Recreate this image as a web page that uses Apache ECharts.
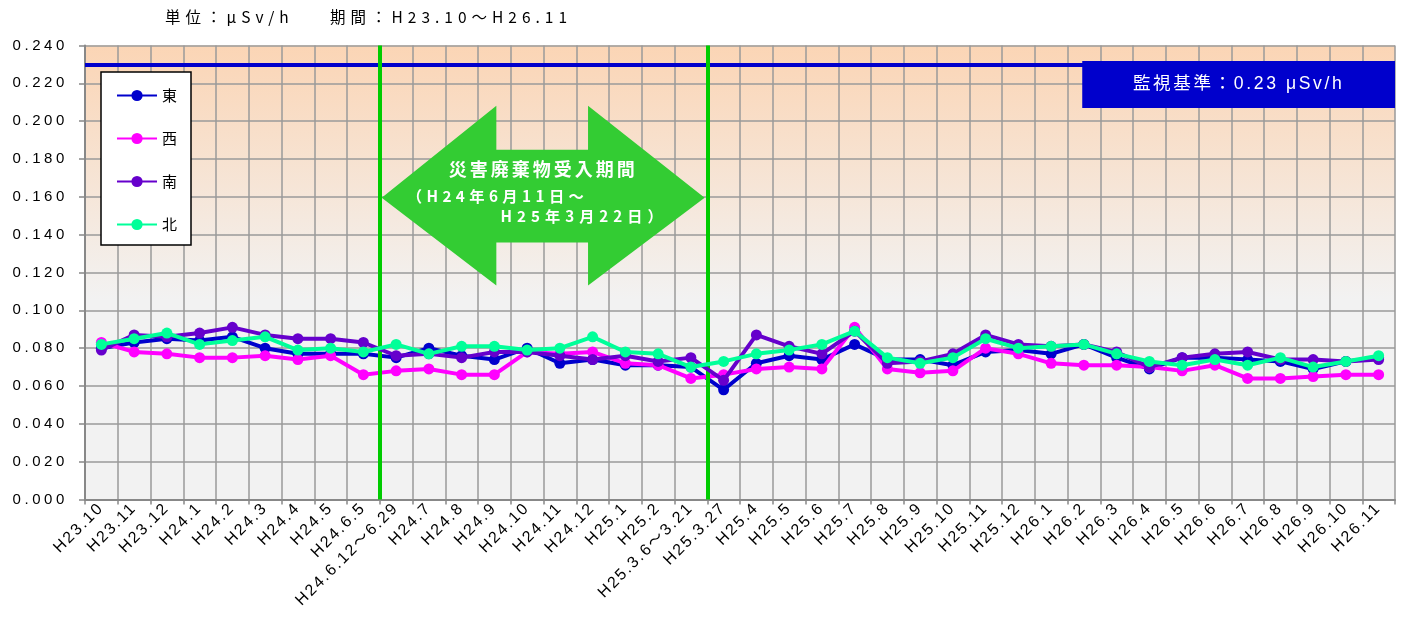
<!DOCTYPE html>
<html><head><meta charset="utf-8">
<script src="https://cdn.jsdelivr.net/npm/echarts@6/dist/echarts.min.js"></script>
<style>html,body{margin:0;padding:0;background:#fff}#c{width:1402px;height:621px}</style>
</head><body><div id="c"></div>
<script>
// ---- data ----
const categories = ['H23.10','H23.11','H23.12','H24.1','H24.2','H24.3','H24.4','H24.5','H24.6.5','H24.6.12～6.29',
  'H24.7','H24.8','H24.9','H24.10','H24.11','H24.12','H25.1','H25.2','H25.3.6～3.21','H25.3.27',
  'H25.4','H25.5','H25.6','H25.7','H25.8','H25.9','H25.10','H25.11','H25.12','H26.1',
  'H26.2','H26.3','H26.4','H26.5','H26.6','H26.7','H26.8','H26.9','H26.10','H26.11'];
const seriesNames = ['東','西','南','北'];
const east  = [0.080,0.083,0.085,0.084,0.086,0.080,0.077,0.077,0.077,0.075,
               0.080,0.076,0.074,0.080,0.072,0.074,0.071,0.071,0.070,0.058,
               0.072,0.076,0.074,0.082,0.074,0.074,0.071,0.078,0.079,0.077,
               0.082,0.075,0.069,0.075,0.075,0.074,0.073,0.069,0.073,0.075];
const west  = [0.083,0.078,0.077,0.075,0.075,0.076,0.074,0.076,0.066,0.068,
               0.069,0.066,0.066,0.078,0.077,0.078,0.072,0.071,0.064,0.066,
               0.069,0.070,0.069,0.091,0.069,0.067,0.068,0.080,0.077,0.072,
               0.071,0.071,0.070,0.068,0.071,0.064,0.064,0.065,0.066,0.066];
const south = [0.079,0.087,0.086,0.088,0.091,0.087,0.085,0.085,0.083,0.076,
               0.077,0.075,0.078,0.078,0.076,0.074,0.076,0.073,0.075,0.063,
               0.087,0.081,0.077,0.089,0.072,0.073,0.077,0.087,0.082,0.081,
               0.082,0.078,0.070,0.075,0.077,0.078,0.074,0.074,0.073,0.074];
const north = [0.082,0.085,0.088,0.082,0.084,0.086,0.079,0.080,0.078,0.082,
               0.077,0.081,0.081,0.079,0.080,0.086,0.078,0.077,0.070,0.073,
               0.077,0.079,0.082,0.089,0.075,0.072,0.075,0.085,0.080,0.081,
               0.082,0.077,0.073,0.071,0.074,0.071,0.075,0.070,0.073,0.076];
const yMin = 0, yMax = 0.24, yStep = 0.02;
const limitValue = 0.23;
const periodBounds = [9, 19];          // category boundaries of the acceptance period
const headerUnit = '単位：μSv/h';
const headerPeriod = '期間：H23.10～H26.11';
const limitLabel = '監視基準：0.23 μSv/h';
const arrowLines = ['災害廃棄物受入期間', '（H24年6月11日～', 'H25年3月22日）'];

// ---- styles ----
const colors = ['#0000CC', '#FF00FF', '#6600CC', '#00FF99'];
const FONT = "'Liberation Sans', Arial, 'Noto Sans CJK JP', sans-serif";
const CJK = "'Noto Sans CJK JP', 'Liberation Sans', sans-serif";
const gridColor = '#9a9a9a';
// letter spacing (px) by font size, to mimic the widely spaced lettering of the original
const spacingBySize = {'15': 3.6, '15.5': 5, '16': 2, '18': 3, '15.2': 5, '15.3': 4.4, '17.6': 2.6};
(function () {
  const proto = CanvasRenderingContext2D.prototype;
  if (!('letterSpacing' in proto)) return;
  const orig = proto.fillText;
  proto.fillText = function (t, x, y, w) {
    const m = /(\d+(?:\.\d+)?)px/.exec(this.font || '');
    const ls = m && spacingBySize[String(parseFloat(m[1]))];
    this.letterSpacing = ls ? ls + 'px' : '0px';
    return w === undefined ? orig.call(this, t, x, y) : orig.call(this, t, x, y, w);
  };
})();

const chart = echarts.init(document.getElementById('c'), null, {renderer: 'canvas'});
const values = [east, west, south, north];

const option = {
  animation: false,
  textStyle: {fontFamily: FONT},
  grid: {
    left: 85, right: 7, top: 45.5, bottom: 121.5, show: true, borderWidth: 0,
    backgroundColor: new echarts.graphic.LinearGradient(0, 0, 0, 1, [
      {offset: 0, color: '#FBD5B5'}, {offset: 0.56, color: '#F2F2F2'}, {offset: 1, color: '#F2F2F2'}])
  },
  legend: {
    data: seriesNames, orient: 'vertical', left: 101, top: 72,
    padding: [16, 14, 13, 15], itemGap: 28, itemWidth: 40, itemHeight: 14,
    backgroundColor: '#fff', borderColor: '#000', borderWidth: 1.5,
    textStyle: {fontSize: 15, color: '#000', fontFamily: CJK}, z: 10
  },
  xAxis: [{
    type: 'category', data: categories, boundaryGap: true,
    axisLine: {lineStyle: {color: '#888', width: 2}},
    axisTick: {show: true, length: 5, lineStyle: {color: '#888', width: 1.5}},
    axisLabel: {rotate: 45, interval: 0, fontSize: 16, color: '#000', margin: 6, fontFamily: FONT},
    splitLine: {show: true, lineStyle: {color: gridColor, width: 1.5}}
  }, {
    type: 'value', min: 0, max: categories.length, show: false
  }],
  yAxis: {
    type: 'value', min: yMin, max: yMax, interval: yStep,
    axisLine: {show: true, lineStyle: {color: '#888', width: 2}},
    axisTick: {show: true, length: 6, lineStyle: {color: '#888', width: 1.5}},
    axisLabel: {fontSize: 15, color: '#000', margin: 17, fontFamily: FONT,
      formatter: v => v.toFixed(3)},
    splitLine: {show: true, lineStyle: {color: gridColor, width: 1.5}}
  },
  series: seriesNames.map((n, i) => ({
    name: n, type: 'line', data: values[i], xAxisIndex: 0, yAxisIndex: 0,
    symbol: 'circle', symbolSize: 11, color: colors[i],
    lineStyle: {width: 4, color: colors[i]}, itemStyle: {color: colors[i]}, z: 3 + i
  })).concat([{
    name: 'markers', type: 'line', data: [], xAxisIndex: 1, yAxisIndex: 0, z: 20,
    markLine: {
      silent: true, symbol: 'none', animation: false,
      label: {show: false},
      data: [
        {yAxis: limitValue, lineStyle: {color: '#0000CC', width: 4, type: 'solid'}},
        ...periodBounds.map(b => ({xAxis: b, lineStyle: {color: '#00CC00', width: 4, type: 'solid'}}))
      ]
    },
    markArea: {
      silent: true,
      itemStyle: {color: '#0000CC', opacity: 1},
      label: {show: true, position: 'inside', color: '#fff', fontSize: 17.6, fontFamily: FONT},
      data: [[{xAxis: 30.45, yAxis: 0.2318, name: limitLabel}, {xAxis: categories.length, yAxis: 0.2070}]]
    }
  }])
};
chart.setOption(option);

// ---- annotations (arrow, header) ----
const P = (x, y) => chart.convertToPixel({xAxisIndex: 1, yAxisIndex: 0}, [x, y]);
const arrowSpec = {tipL: 9.06, tipR: 18.92, headL: 12.56, headR: 15.36,
  headTop: 0.2081, headBot: 0.1131, shaftTop: 0.1849, shaftBot: 0.1358, mid: 0.1595};
const a = arrowSpec;
const pts = [
  P(a.tipL, a.mid), P(a.headL, a.headTop), P(a.headL, a.shaftTop), P(a.headR, a.shaftTop),
  P(a.headR, a.headTop), P(a.tipR, a.mid), P(a.headR, a.headBot), P(a.headR, a.shaftBot),
  P(a.headL, a.shaftBot), P(a.headL, a.headBot)
];
const tl = P(a.tipL, a.mid), tr = P(a.tipR, a.mid);
const cx = (tl[0] + tr[0]) / 2;
chart.setOption({
  graphic: [
    {type: 'polygon', shape: {points: pts}, style: {fill: '#33CC33'}, z: 8, silent: true},
    {type: 'text', x: cx, y: tl[1] - 29, z: 9, style: {text: arrowLines[0], fill: '#fff',
      font: "bold 18px " + CJK, textAlign: 'center', textVerticalAlign: 'middle'}},
    {type: 'text', x: tl[0] + 25, y: tl[1] - 2, z: 9, style: {text: arrowLines[1], fill: '#fff',
      font: "bold 15.3px " + CJK, textAlign: 'left', textVerticalAlign: 'middle'}},
    {type: 'text', x: tr[0] - 37, y: tl[1] + 18, z: 9, style: {text: arrowLines[2], fill: '#fff',
      font: "bold 15.2px " + CJK, textAlign: 'right', textVerticalAlign: 'middle'}},
    {type: 'text', x: 165, y: 17, z: 9, style: {text: headerUnit, fill: '#000',
      font: "15.5px " + CJK, textAlign: 'left', textVerticalAlign: 'middle'}},
    {type: 'text', x: 330, y: 17, z: 9, style: {text: headerPeriod, fill: '#000',
      font: "15.5px " + CJK, textAlign: 'left', textVerticalAlign: 'middle'}}
  ]
});
chart.getZr().refreshImmediately();
</script></body></html>
